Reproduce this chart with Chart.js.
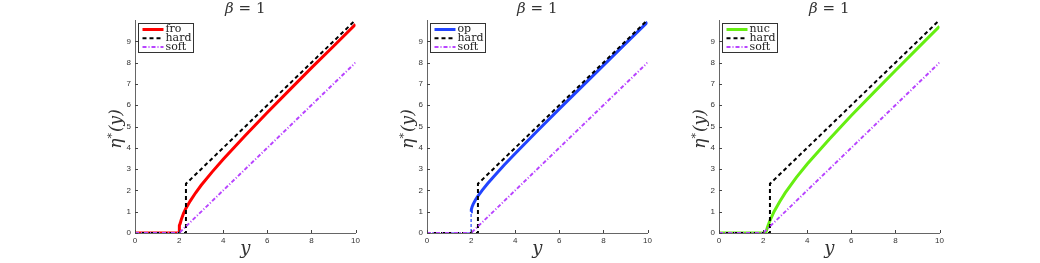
<!DOCTYPE html>
<html>
<head>
<meta charset="utf-8">
<script src="https://cdn.jsdelivr.net/npm/chart.js@4"></script>
<style>
  body { margin: 0; background: #fff; width: 1040px; height: 263px; overflow: hidden; }
  .panel { position: absolute; top: 0; width: 268px; height: 263px; }
</style>
</head>
<body>
<div class="panel" style="left:95px"><canvas id="c1"></canvas></div>
<div class="panel" style="left:387px"><canvas id="c2"></canvas></div>
<div class="panel" style="left:679px"><canvas id="c3"></canvas></div>
<script>
// values (beta = 1)
const xTicks = [0, 2, 4, 6, 8, 10];
const yTicks = [0, 1, 2, 3, 4, 5, 6, 7, 8, 9];

const froX = [0, 2, 2.002, 2.005, 2.01, 2.03, 2.05, 2.1, 2.2, 2.3, 2.5, 2.75, 3, 3.5, 4, 5, 6, 7, 8, 9, 10];
const froY = [0, 0, 0.09, 0.14, 0.2, 0.35, 0.45, 0.64, 0.92, 1.14, 1.5, 1.89, 2.24, 2.87, 3.46, 4.58, 5.66, 6.71, 7.75, 8.77, 9.8];

const opX = [0, 2, 2, 2.01, 2.05, 2.1, 2.2, 2.3, 2.5, 2.75, 3, 3.5, 4, 5, 6, 7, 8, 9, 10];
const opY = [0, 0, 1, 1.1, 1.25, 1.37, 1.56, 1.72, 2, 2.32, 2.62, 3.19, 3.73, 4.79, 5.83, 6.85, 7.87, 8.89, 9.9];

const nucX = [0, 2.12, 2.15, 2.2, 2.3, 2.5, 2.75, 3, 3.5, 4, 5, 6, 7, 8, 9, 10];
const nucY = [0, 0, 0.11, 0.28, 0.56, 1.01, 1.47, 1.88, 2.6, 3.24, 4.4, 5.52, 6.58, 7.63, 8.67, 9.7];

const hardX = [0, 2.31, 2.31, 10];
const hardY = [0, 0, 2.31, 10];
const softX = [0, 2, 10];
const softY = [0, 0, 8];

const pts = (xs, ys) => xs.map((x, i) => ({ x, y: ys[i] }));

// draws MATLAB-ish bits: inward ticks, legend box inside the axes, latex-ish labels
const decor = {
  id: 'decor',
  afterDatasetsDraw(chart) {
    const { ctx, chartArea: a, scales: { x, y } } = chart;
    ctx.save();
    ctx.strokeStyle = '#444';
    ctx.lineWidth = 1;
    ctx.setLineDash([]);
    ctx.beginPath();
    xTicks.forEach(v => {
      const px = Math.round(x.getPixelForValue(v)) + 0.5;
      ctx.moveTo(px, a.bottom); ctx.lineTo(px, a.bottom - 3);
    });
    yTicks.forEach(v => {
      const py = Math.round(y.getPixelForValue(v)) + 0.5;
      ctx.moveTo(a.left, py); ctx.lineTo(a.left + 3, py);
    });
    ctx.stroke();

    // legend
    const bx = Math.round(a.left + 3) + 0.5, by = Math.round(a.top + 3) + 0.5;
    ctx.fillStyle = '#fff';
    ctx.fillRect(bx, by, 55, 29);
    ctx.strokeStyle = '#333';
    ctx.strokeRect(bx, by, 55, 29);
    chart.data.datasets.forEach((ds, i) => {
      const ly = by + 6 + i * 8.7;
      ctx.strokeStyle = ds.borderColor;
      ctx.lineWidth = ds.borderWidth;
      ctx.setLineDash(ds.borderDash || []);
      ctx.beginPath();
      ctx.moveTo(bx + 4, ly); ctx.lineTo(bx + 25, ly);
      ctx.stroke();
      ctx.setLineDash([]);
      ctx.fillStyle = '#222';
      ctx.font = '11px "DejaVu Serif"';
      ctx.textBaseline = 'middle';
      ctx.textAlign = 'left';
      ctx.fillText(ds.label, bx + 27, ly);
    });

    // title: beta = 1
    const cx = (a.left + a.right) / 2;
    ctx.fillStyle = '#333';
    ctx.textBaseline = 'middle';
    ctx.font = 'italic 15px "DejaVu Serif"';
    const w1 = ctx.measureText('β').width;
    ctx.font = '15px "DejaVu Serif"';
    const w2 = ctx.measureText(' = 1').width;
    const sx = cx - (w1 + w2) / 2;
    ctx.textAlign = 'left';
    ctx.font = 'italic 15px "DejaVu Serif"';
    ctx.fillText('β', sx, 9);
    ctx.font = '15px "DejaVu Serif"';
    ctx.fillText(' = 1', sx + w1, 9);

    // x label
    ctx.font = 'italic 18px "DejaVu Serif"';
    ctx.textAlign = 'center';
    ctx.fillText('y', cx, 249);

    // y label
    ctx.translate(a.left - 18, (a.top + a.bottom) / 2 + 3);
    ctx.rotate(-Math.PI / 2);
    ctx.font = 'italic 17px "DejaVu Serif"';
    const e1 = ctx.measureText('η').width;
    ctx.font = 'italic 11px "DejaVu Serif"';
    const e2 = ctx.measureText('*').width;
    ctx.font = 'italic 17px "DejaVu Serif"';
    const e3 = ctx.measureText('(y)').width;
    let tx = -(e1 + e2 + e3) / 2;
    ctx.textAlign = 'left';
    ctx.fillText('η', tx, 0);
    ctx.font = 'italic 11px "DejaVu Serif"';
    ctx.fillText('*', tx + e1, -5);
    ctx.font = 'italic 17px "DejaVu Serif"';
    ctx.fillText('(y)', tx + e1 + e2 + 1, 0);
    ctx.restore();
  }
};

function makePanel(id, label, xs, ys, color, thinBelow) {
  const main = {
    label,
    data: pts(xs, ys),
    borderColor: color,
    borderWidth: 3,
    order: 3
  };
  if (thinBelow) {
    const thin = c => c.p0.parsed.x < 2 || c.p0.parsed.x === c.p1.parsed.x;
    main.segment = {
      borderDash: c => thin(c) ? [3, 2] : undefined,
      borderWidth: c => thin(c) ? 1.2 : undefined
    };
  }
  return new Chart(document.getElementById(id), {
    type: 'line',
    data: {
      datasets: [
        main,
        { label: 'hard', data: pts(hardX, hardY), borderColor: '#000', borderWidth: 2, borderDash: [4, 3], order: 2 },
        { label: 'soft', data: pts(softX, softY), borderColor: '#b844ff', borderWidth: 2, borderDash: [4, 2, 1, 2], order: 1 }
      ]
    },
    options: {
      responsive: true,
      maintainAspectRatio: false,
      devicePixelRatio: 1,
      animation: false,
      elements: { point: { radius: 0 }, line: { tension: 0, borderCapStyle: 'butt' } },
      layout: { padding: { top: 20, left: 0, right: 6, bottom: 0 } },
      plugins: { legend: { display: false }, tooltip: { enabled: false } },
      scales: {
        x: {
          type: 'linear', min: 0, max: 10,
          grid: { display: false, drawTicks: false },
          border: { display: true, color: '#666', width: 1 },
          ticks: { stepSize: 2, color: '#333', padding: 3, maxRotation: 0, font: { family: 'Liberation Sans', size: 8 } },
          afterFit: s => { s.height = 30; }
        },
        y: {
          min: 0, max: 10,
          grid: { display: false, drawTicks: false },
          border: { display: true, color: '#666', width: 1 },
          ticks: { stepSize: 1, color: '#333', padding: 4, font: { family: 'Liberation Sans', size: 8 },
            callback: v => v === 10 ? '' : v },
          afterFit: s => { s.width = 40; }
        }
      }
    },
    plugins: [decor]
  });
}

makePanel('c1', 'fro', froX, froY, '#ff0000', false);
makePanel('c2', 'op', opX, opY, '#2244ff', true);
makePanel('c3', 'nuc', nucX, nucY, '#66ee11', false);
</script>
</body>
</html>
